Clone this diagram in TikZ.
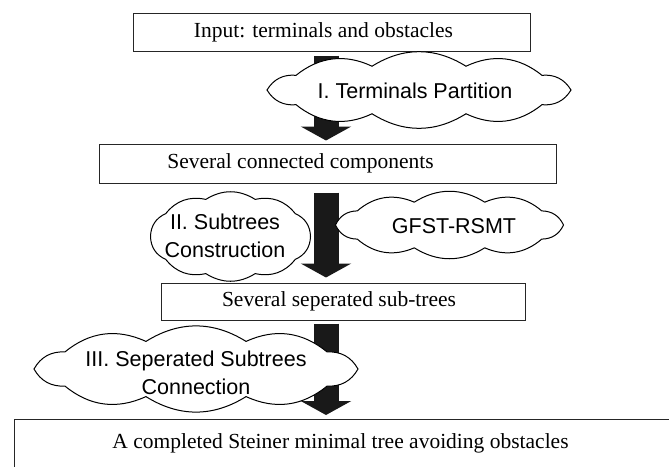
\documentclass[tikz,border=0pt]{standalone}
\usepackage{fontspec}
\setmainfont{Liberation Serif}
\setsansfont{Liberation Sans}
\usetikzlibrary{arrows.meta}
% cx, cy, rx, ry, number of puffs
\newcommand\puffcloud[5]{%
  \path[cloudline] ({#1+#3},{#2})
    \foreach \k in {1,...,#5} { to[bend left=32] ({#1+#3*cos(\k*360/#5)},{#2+#4*sin(\k*360/#5)}) } -- cycle;}
\begin{document}
\begin{tikzpicture}[x=1pt,y=-1pt,
  box/.style={draw=black!85, line width=1pt, fill=white, inner sep=0pt},
  boxtext/.style={font=\fontsize{21.5}{26}\selectfont, inner sep=0pt},
  cloudline/.style={draw=black, line width=1pt, fill=white},
  cloudtext/.style={font=\sffamily\fontsize{21.5}{28}\selectfont, inner sep=0pt, align=center},
  bigarrow/.style={line width=25pt, draw=black!90, -{Triangle[length=14pt,width=50pt]}}
]
\useasboundingbox (0,0) rectangle (669,466);
\clip (0,0) rectangle (669,466);
\coordinate (ax) at (326,0);
% boxes
\node[box, minimum width=397pt, minimum height=38pt,
  label={[boxtext, xshift=-8pt]center:Input: terminals and obstacles}] (b1) at (331.5,32) {};
\node[box, minimum width=457pt, minimum height=39pt,
  label={[boxtext, xshift=-27pt]center:Several connected components}] (b2) at (327.5,163.5) {};
\node[box, minimum width=364pt, minimum height=37pt,
  label={[boxtext, xshift=-4pt]center:Several seperated sub-trees}] (b3) at (343,301.5) {};
\node[box, anchor=north west, minimum width=700pt, minimum height=80pt,
  label={[boxtext, xshift=-24pt, yshift=16pt]center:A completed Steiner minimal tree avoiding obstacles}] (b4) at (14,419) {};
% arrows
\draw[bigarrow] ([yshift=-4pt]b1.south -| ax) -- ([yshift=3pt]b2.north -| ax);
\draw[bigarrow] ([yshift=-9pt]b2.south -| ax) -- ([yshift=5pt]b3.north -| ax);
\draw[bigarrow] ([yshift=-3pt]b3.south -| ax) -- ([yshift=4pt]b4.north -| ax);
% clouds
\puffcloud{419}{90}{152}{25}{10}
\node[cloudtext] (c1) at (415,91) {I. Terminals Partition};
\puffcloud{230.5}{236.5}{80}{39}{10}
\node[cloudtext] (c2) at (225,236) {II. Subtrees\\Construction};
\puffcloud{449.5}{225}{114}{24}{10}
\node[cloudtext] (c3) at (454,226) {GFST-RSMT};
\puffcloud{196}{369}{162}{29}{10}
\node[cloudtext] (c4) at (196,373) {III. Seperated Subtrees\\Connection};
\end{tikzpicture}
\end{document}
